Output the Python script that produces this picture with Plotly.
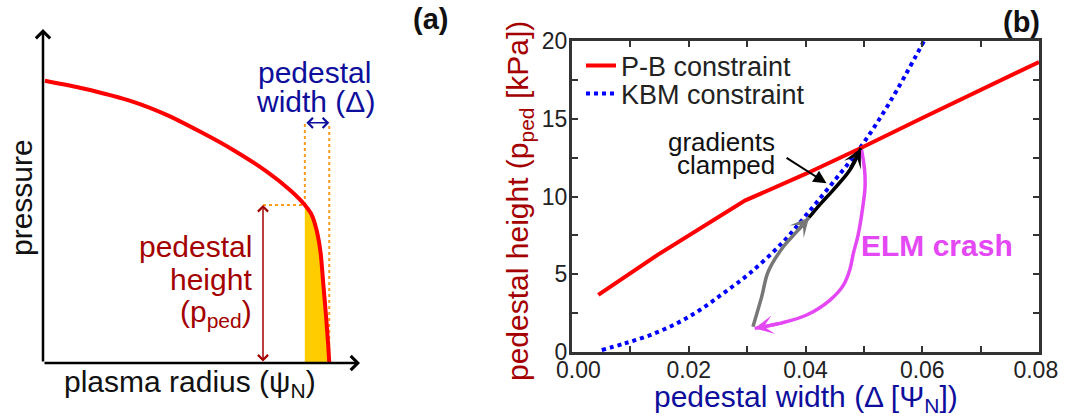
import plotly.graph_objects as go

W, H = 1066, 419


def px(x):
    return x / W


def py(y):
    return 1 - y / H


# ---------------- Panel (a): schematic pressure profile (normalised units) -------------
prof_psi = [0.006, 0.127, 0.285, 0.390, 0.495, 0.600, 0.706, 0.779, 0.826, 0.848,
            0.863, 0.876, 0.884, 0.893, 0.900, 0.903]
prof_p = [0.845, 0.822, 0.782, 0.743, 0.693, 0.638, 0.573, 0.518, 0.473, 0.443,
          0.398, 0.328, 0.239, 0.139, 0.049, 0.0]
ped_top_psi = 0.826
ped_top_p = 0.473
ped_foot_psi = 0.903
height_arrow_psi = 0.694
width_arrow_p = 0.719

# ---------------- Panel (b): pedestal constraints -------------
pb_width = [0.0045, 0.0148, 0.0297, 0.0400, 0.0494, 0.0600, 0.0800]
pb_height = [3.67, 6.28, 9.75, 11.45, 13.1, 15.05, 18.65]

kbm_width = [0.0051, 0.0090, 0.0134, 0.0180, 0.0219, 0.0260, 0.0305, 0.0361,
             0.0402, 0.0447, 0.0494, 0.0545, 0.0603]
kbm_height = [0.13, 0.55, 1.09, 1.85, 2.70, 3.80, 5.08, 7.05, 8.85, 10.9, 13.15,
              16.1, 20.0]

recover_width = [0.0310, 0.0325, 0.0336, 0.0362, 0.0385, 0.0406]
recover_height = [1.63, 3.56, 5.16, 6.77, 7.74, 8.65]

clamp_width = [0.0406, 0.0425, 0.0447, 0.0476, 0.0495]
clamp_height = [8.65, 9.5, 10.4, 11.7, 13.1]

elm_width = [0.0496, 0.0501, 0.0502, 0.0498, 0.0490, 0.0482, 0.0476, 0.0465,
             0.0442, 0.0402, 0.0356, 0.0313]
elm_height = [13.0, 11.8, 10.6, 9.3, 7.5, 6.35, 5.3, 4.3, 3.34, 2.38, 1.84, 1.52]

x_ticks = [0.00, 0.02, 0.04, 0.06, 0.08]
x_ticktext = ["\u00a0\u00a00.00", "0.02", "0.04", "0.06", "0.08\u00a0"]
y_ticks = [0, 5, 10, 15, 20]

FONT = "Liberation Sans, Arial, sans-serif"
DARKRED = "#a40000"
DARKBLUE = "#0e0e9c"
ORANGE = "#ff9a1a"
YELLOW = "#ffcc00"
MAGENTA = "#e448f4"

fig = go.Figure()

# ---- panel (a) ----
# yellow pedestal region
fill_x = [ped_top_psi] + [x for x in prof_psi if x >= ped_top_psi] + [ped_top_psi]
fill_y = [0.0] + [y for x, y in zip(prof_psi, prof_p) if x >= ped_top_psi] + [0.0]
fig.add_trace(go.Scatter(x=fill_x, y=fill_y, mode="lines", fill="toself",
                         fillcolor=YELLOW, line=dict(width=0, color=YELLOW),
                         xaxis="x", yaxis="y", showlegend=False, hoverinfo="skip"))
# orange dotted guides
dot = dict(color=ORANGE, width=2, dash="3px,3px")
fig.add_trace(go.Scatter(x=[height_arrow_psi, ped_top_psi], y=[ped_top_p, ped_top_p],
                         mode="lines", line=dot, xaxis="x", yaxis="y", showlegend=False))
fig.add_trace(go.Scatter(x=[ped_top_psi, ped_top_psi], y=[ped_top_p, width_arrow_p],
                         mode="lines", line=dot, xaxis="x", yaxis="y", showlegend=False))
fig.add_trace(go.Scatter(x=[ped_foot_psi, ped_foot_psi], y=[0, width_arrow_p],
                         mode="lines", line=dot, xaxis="x", yaxis="y", showlegend=False))
# profile
fig.add_trace(go.Scatter(x=prof_psi, y=prof_p, mode="lines",
                         line=dict(color="#ff0000", width=4, shape="spline", smoothing=0.6),
                         xaxis="x", yaxis="y", showlegend=False))

# ---- panel (b) ----
fig.add_trace(go.Scatter(x=kbm_width, y=kbm_height, mode="lines", name="KBM constraint",
                         line=dict(color="#0000ff", width=4, dash="dot", shape="spline"),
                         xaxis="x2", yaxis="y2", legend="legend2"))
fig.add_trace(go.Scatter(x=pb_width, y=pb_height, mode="lines", name="P-B constraint",
                         line=dict(color="#ff0000", width=4),
                         xaxis="x2", yaxis="y2", legend="legend"))
fig.add_trace(go.Scatter(x=recover_width, y=recover_height, mode="lines",
                         line=dict(color="#777777", width=3.5, shape="spline"),
                         xaxis="x2", yaxis="y2", showlegend=False))
fig.add_trace(go.Scatter(x=clamp_width, y=clamp_height, mode="lines",
                         line=dict(color="#000000", width=3.5, shape="spline"),
                         xaxis="x2", yaxis="y2", showlegend=False))
fig.add_trace(go.Scatter(x=elm_width, y=elm_height, mode="lines",
                         line=dict(color=MAGENTA, width=3.5, shape="spline"),
                         xaxis="x2", yaxis="y2", showlegend=False))

annotations = []


def head(xs, ys, color, xr="x2", yr="y2"):
    annotations.append(dict(x=xs[-1], y=ys[-1], ax=xs[-2], ay=ys[-2], xref=xr, yref=yr,
                            axref=xr, ayref=yr, showarrow=True, arrowhead=3,
                            arrowsize=0.9, arrowwidth=3.5, arrowcolor=color, text=""))


head(recover_width, recover_height, "#777777")
head(clamp_width, clamp_height, "#000000")
head(elm_width, elm_height, MAGENTA)

# axes arrows of panel (a)
for (hx, hy) in [(0, 1), (1, 0)]:
    annotations.append(dict(x=hx, y=hy, ax=0, ay=0, xref="x", yref="y", axref="x",
                            ayref="y", showarrow=True, arrowhead=4, arrowsize=1.1,
                            arrowwidth=2.5, arrowcolor="#000000", text=""))
# pedestal height double arrow
annotations.append(dict(x=height_arrow_psi, y=ped_top_p, ax=height_arrow_psi, ay=0,
                        xref="x", yref="y", axref="x", ayref="y", showarrow=True,
                        arrowhead=4, startarrowhead=4, arrowside="end+start",
                        arrowsize=1.3, startarrowsize=1.3, arrowwidth=1.5,
                        arrowcolor=DARKRED, text=""))
# pedestal width double arrow
annotations.append(dict(x=ped_foot_psi, y=width_arrow_p, ax=ped_top_psi, ay=width_arrow_p,
                        xref="x", yref="y", axref="x", ayref="y", showarrow=True,
                        arrowhead=4, startarrowhead=4, arrowside="end+start",
                        arrowsize=1.3, startarrowsize=1.3, arrowwidth=1.5,
                        arrowcolor=DARKBLUE, text=""))


def label(text, x, y, size, color="#111111", xanchor="center", angle=0, bold=False):
    if bold:
        text = "<b>" + text + "</b>"
    annotations.append(dict(text=text, x=px(x), y=py(y), xref="paper", yref="paper",
                            showarrow=False, xanchor=xanchor, yanchor="middle",
                            textangle=angle, font=dict(family=FONT, size=size, color=color)))


label("pressure", 21, 198, 30, angle=-90)
label("plasma radius (ψ<sub>N</sub>)", 190, 383, 30)
label("pedestal", 314, 72, 30, DARKBLUE)
label("width (Δ)", 315, 101, 30, DARKBLUE)
label("pedestal", 254, 246, 30, DARKRED, xanchor="right")
label("height", 254, 279, 30, DARKRED, xanchor="right")
label("(p<sub>ped</sub>)", 254, 313, 30, DARKRED, xanchor="right")
label("(a)", 430, 19, 29, bold=True)
label("(b)", 1022, 22, 29, bold=True)
label("pedestal height (p<sub>ped</sub> [kPa])", 519, 201, 30, DARKRED, angle=-90)
label("pedestal width (Δ [Ψ<sub>N</sub>])", 806, 398, 30, DARKBLUE)
label("gradients", 777, 142, 26, xanchor="right")
label("clamped", 777, 165, 26, xanchor="right")
label("ELM crash", 937, 245, 30, MAGENTA, bold=True)

# "gradients clamped" pointer
annotations.append(dict(x=0.0436, y=10.85, ax=0.0365, ay=12.54, xref="x2", yref="y2",
                        axref="x2", ayref="y2", showarrow=True, arrowhead=2,
                        arrowsize=1.3, arrowwidth=2, arrowcolor="#000000", text=""))

axis_b = dict(showline=True, linecolor="#333333", linewidth=3, mirror="ticks",
              ticks="inside", ticklen=6, tickwidth=2, tickcolor="#333333",
              showgrid=False, zeroline=False, automargin=False,
              ticklabeloverflow="allow",
              tickfont=dict(family=FONT, size=23, color="#222222"))

fig.update_layout(
    width=W, height=H,
    margin=dict(l=0, r=0, t=0, b=0, pad=0, autoexpand=False),
    paper_bgcolor="white", plot_bgcolor="white",
    xaxis=dict(domain=[px(43), px(360)], range=[0, 1], visible=False),
    yaxis=dict(domain=[py(363), py(29)], range=[0, 1], visible=False),
    xaxis2=dict(domain=[px(572), px(1039)], range=[0, 0.08], anchor="y2",
                tickvals=x_ticks, ticktext=x_ticktext,
                minor=dict(dtick=0.01, tick0=0, ticks="inside", ticklen=6,
                           tickwidth=2, tickcolor="#333333"),
                ticklabelstandoff=-5, **axis_b),
    yaxis2=dict(domain=[py(352), py(41)], range=[0, 20], anchor="x2",
                tickvals=y_ticks,
                minor=dict(dtick=2.5, tick0=0, ticks="inside", ticklen=6,
                           tickwidth=2, tickcolor="#333333"),
                ticklabelstandoff=-3, **axis_b),
    legend=dict(x=px(581), y=py(66), xanchor="left", yanchor="middle",
                bgcolor="rgba(0,0,0,0)", itemwidth=30,
                font=dict(family=FONT, size=27, color="#222222")),
    legend2=dict(x=px(581), y=py(94), xanchor="left", yanchor="middle",
                 bgcolor="rgba(0,0,0,0)", itemwidth=30,
                 font=dict(family=FONT, size=27, color="#222222")),
    annotations=annotations,
    font=dict(family=FONT),
)

fig.write_html("out.html")
